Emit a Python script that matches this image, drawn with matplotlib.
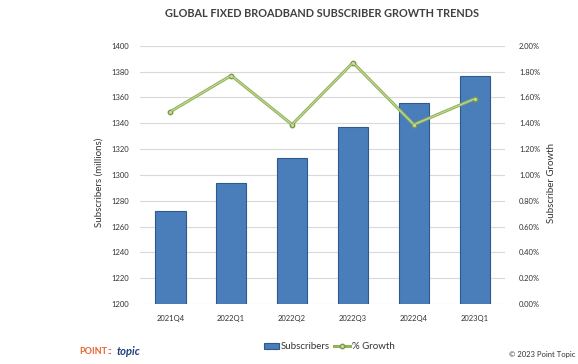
import numpy as np
import matplotlib.pyplot as plt

plt.rcParams['font.family'] = ['Lato', 'DejaVu Sans']

# Dados do gráfico
trimestres = ['2021Q4', '2022Q1', '2022Q2', '2022Q3', '2022Q4', '2023Q1']
assinantes = [1272, 1294, 1313, 1337, 1356, 1377]  # milhões
crescimento = [1.49, 1.77, 1.39, 1.87, 1.39, 1.59]  # %

fig = plt.figure(figsize=(5.78, 3.64), dpi=100)
ax = fig.add_axes([0.242, 0.165, 0.632, 0.709])
x = np.arange(len(trimestres))

# Barras de assinantes
ax.bar(x, np.array(assinantes) - 1200, bottom=1200, width=0.5,
       color='#4a7ebb', edgecolor='#2c5a8f', linewidth=0.8,
       label='Subscribers', zorder=2)
ax.set_ylim(1200, 1400)
ax.set_xlim(-0.5, len(trimestres) - 0.5)
ax.set_yticks(np.arange(1200, 1401, 20))
ax.grid(axis='y', color='#d9d9d9', linewidth=0.8, zorder=0)
ax.set_axisbelow(True)
for s in ax.spines.values():
    s.set_visible(False)
ax.tick_params(axis='both', length=0, labelsize=5.5, colors='#333333', pad=8)
ax.set_xticks(x)
ax.set_xticklabels(trimestres)
ax.set_ylabel('Subscribers (millions)', fontsize=7, color='#333333')
ax.yaxis.set_label_coords(-0.10, 0.47)

# Linha de crescimento
ax2 = ax.twinx()
ax2.plot(x, crescimento, color='#93b35a', linewidth=2.2, marker='o', markersize=3.2,
         markerfacecolor='#c6d9a0', markeredgecolor='#7d9a48', label='% Growth', zorder=3)
ax2.plot(x, crescimento, color='#cfe0ad', linewidth=0.6, zorder=4)
ax2.set_ylim(0, 2.0)
ax2.set_yticks(np.arange(0, 2.01, 0.2))
ax2.set_yticklabels([f'{v:.2f}%' for v in np.arange(0, 2.01, 0.2)])
for s in ax2.spines.values():
    s.set_visible(False)
ax2.tick_params(axis='y', length=0, labelsize=5.5, colors='#333333', pad=10)
ax2.set_ylabel('Subscriber Growth', fontsize=7, color='#333333')
ax2.yaxis.set_label_coords(1.115, 0.47)

fig.text(0.557, 0.962, 'GLOBAL FIXED BROADBAND SUBSCRIBER GROWTH TRENDS',
         ha='center', va='center', fontsize=7.8, fontweight='bold', color='#404040')

# Legenda
h1, l1 = ax.get_legend_handles_labels()
h2, l2 = ax2.get_legend_handles_labels()
fig.legend(h1 + h2, l1 + l2, loc='center', bbox_to_anchor=(0.569, 0.047), ncol=2,
           frameon=False, fontsize=7, handlelength=1.6, handletextpad=0.2,
           columnspacing=0.4, labelcolor='#333333')

# Logo e copyright
fig.text(0.137, 0.033, 'POINT', ha='left', va='center', fontsize=6.5, fontweight='bold', color='#e8622c')
fig.text(0.186, 0.033, '::', ha='left', va='center', fontsize=6.5, fontweight='bold', color='#c0392b')
fig.text(0.202, 0.033, 'topic', ha='left', va='center', fontsize=8, fontweight='bold',
         fontstyle='italic', color='#1f3f7a')
fig.text(0.995, 0.027, '© 2023 Point Topic', ha='right', va='center', fontsize=5.5, color='#333333')

fig.savefig('out.png', dpi=100)
